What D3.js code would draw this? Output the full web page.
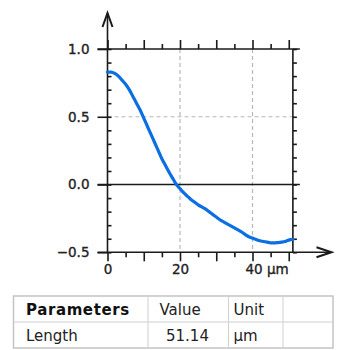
<!DOCTYPE html>
<html>
<head>
<meta charset="utf-8">
<script src="https://cdn.jsdelivr.net/npm/d3@7"></script>
<style>
  html, body { margin: 0; padding: 0; background: #fff; }
  svg { display: block; font-family: "DejaVu Sans", Verdana, sans-serif; }
</style>
</head>
<body>
<svg id="chart" width="342" height="350"></svg>
<script>
// Profile position along the line (µm)
const positions = [0, 1, 2, 3, 4, 5, 6, 7, 8, 9, 10, 11, 12, 13, 14, 15, 16, 17, 18, 19,
  20, 21, 22, 23, 24, 25, 26, 27, 28, 29, 30, 31, 32, 33, 34, 35, 36, 37, 38, 39,
  40, 41, 42, 43, 44, 45, 46, 47, 48, 49, 50, 51.14];
// Profile height at each position
const heights = [0.83, 0.83, 0.82, 0.80, 0.77, 0.74, 0.70, 0.65, 0.60, 0.55,
  0.49, 0.43, 0.37, 0.31, 0.25, 0.19, 0.14, 0.09, 0.045, 0.0,
  -0.03, -0.06, -0.085, -0.11, -0.13, -0.15, -0.165, -0.18, -0.20, -0.22,
  -0.24, -0.26, -0.275, -0.29, -0.305, -0.32, -0.335, -0.35, -0.37, -0.385,
  -0.395, -0.405, -0.415, -0.42, -0.425, -0.43, -0.43, -0.428, -0.425, -0.42,
  -0.41, -0.405];

const xTickLabels = [0, 20, 40];
const yTickLabels = [-0.5, 0, 0.5, 1.0];
const xUnit = "µm";

const tableHeader = ["Parameters", "Value", "Unit", ""];
const tableRow = ["Length", "51.14", "µm", ""];

const svg = d3.select("#chart");
const lengthMax = 51.14;

const x = d3.scaleLinear().domain([0, lengthMax]).range([107.5, 107.5 + lengthMax * 3.625]);
const y = d3.scaleLinear().domain([-0.5, 1.0]).range([252.3, 49]);

const x0 = x(0), x1 = x(lengthMax), yTop = y(1), yBot = y(-0.5);
const ink = "#1a1a1a";

// dashed grid
const grid = svg.append("g").attr("stroke", "#b8b8b8").attr("stroke-width", 1.2)
  .attr("stroke-dasharray", "4,3");
grid.selectAll("line.v").data([20, 40]).join("line")
  .attr("x1", d => x(d)).attr("x2", d => x(d)).attr("y1", yTop).attr("y2", yBot);
grid.selectAll("line.h").data([0.5]).join("line")
  .attr("x1", x0).attr("x2", x1).attr("y1", d => y(d)).attr("y2", d => y(d));

function styleAxis(g) {
  g.selectAll("path.domain").remove();
  g.selectAll(".tick line").attr("stroke", ink).attr("stroke-width", 1.6);
  g.selectAll("text").attr("fill", "#222").attr("font-size", "13.5px")
    .attr("stroke", "#222").attr("stroke-width", 0.35)
    .attr("font-family", "\"DejaVu Sans\", Verdana, sans-serif");
}

const every5 = d3.range(0, 51, 5);
const major10 = every5.filter(v => v % 10 === 0);
const minor5 = every5.filter(v => v % 10 !== 0);
const every01 = d3.range(-5, 11).map(v => v / 10);

// top border ticks
svg.append("g").attr("transform", `translate(0,${yTop})`)
  .call(d3.axisTop(x).tickValues(major10).tickSize(9).tickFormat("")).call(styleAxis);
svg.append("g").attr("transform", `translate(0,${yTop})`)
  .call(d3.axisTop(x).tickValues(minor5).tickSize(5).tickFormat("")).call(styleAxis);

// bottom axis
const bottom = svg.append("g").attr("transform", `translate(0,${yBot})`)
  .call(d3.axisBottom(x).tickValues(major10).tickSize(9).tickPadding(3)
    .tickFormat(d => xTickLabels.includes(d) ? d : ""))
  .call(styleAxis);
svg.append("g").attr("transform", `translate(0,${yBot})`)
  .call(d3.axisBottom(x).tickValues(minor5).tickSize(5).tickFormat("")).call(styleAxis);
// unit after the last label, keeping the number centred on its tick
bottom.selectAll(".tick text").filter(d => d === xTickLabels[xTickLabels.length - 1])
  .each(function (d) {
    const t = d3.select(this);
    const w = this.getComputedTextLength();
    t.attr("text-anchor", "start").attr("x", -w / 2 + 1).append("tspan").text(" " + xUnit);
  });

// left axis: major ticks out with labels, minor ticks in
svg.append("g").attr("transform", `translate(${x0},0)`)
  .call(d3.axisLeft(y).tickValues(yTickLabels).tickSize(10).tickPadding(8)
    .tickFormat(d3.format(".1f")))
  .call(styleAxis);
svg.append("g").attr("transform", `translate(${x0},0)`)
  .call(d3.axisRight(y).tickValues(every01).tickSize(4).tickFormat("")).call(styleAxis);

// right border ticks
svg.append("g").attr("transform", `translate(${x1},0)`)
  .call(d3.axisRight(y).tickValues(every01).tickSize(4).tickFormat("")).call(styleAxis);

// frame and axis lines
const lines = svg.append("g").attr("stroke", ink).attr("stroke-width", 1.6).attr("fill", "none");
lines.append("line").attr("x1", x0 - 10).attr("x2", x1 + 7).attr("y1", yTop).attr("y2", yTop);
lines.append("line").attr("x1", x0 - 10).attr("x2", x1 + 7).attr("y1", y(0)).attr("y2", y(0));
lines.append("line").attr("x1", x1).attr("x2", x1).attr("y1", yTop).attr("y2", yBot);
// x axis with arrow
const xTip = 331.5;
lines.append("line").attr("x1", x0 - 10).attr("x2", xTip).attr("y1", yBot).attr("y2", yBot);
lines.append("path").attr("stroke-width", 2)
  .attr("d", `M${xTip - 15},${yBot - 5}L${xTip},${yBot}L${xTip - 15},${yBot + 5}`);
// y axis with arrow
const yTip = 13;
lines.append("line").attr("x1", x0).attr("x2", x0).attr("y1", yBot).attr("y2", yTip);
lines.append("path").attr("stroke-width", 2)
  .attr("d", `M${x0 - 5},${yTip + 14}L${x0},${yTip}L${x0 + 5},${yTip + 14}`);

// profile curve
const pts = positions.map((p, i) => [p, heights[i]]);
svg.append("path").datum(pts)
  .attr("fill", "none").attr("stroke", "#0b6fe3").attr("stroke-width", 3.2)
  .attr("stroke-linejoin", "round").attr("stroke-linecap", "round")
  .attr("d", d3.line().x(d => x(d[0])).y(d => y(d[1])).curve(d3.curveMonotoneX));

// parameter table
const colEdges = [13.5, 148, 228.5, 283, 333];
const rowEdges = [296, 322, 348];
const tbl = svg.append("g");
tbl.append("rect").attr("x", colEdges[0]).attr("y", rowEdges[0])
  .attr("width", colEdges[4] - colEdges[0]).attr("height", rowEdges[2] - rowEdges[0])
  .attr("fill", "#fff").attr("stroke", "#c4c4c4").attr("stroke-width", 1.5);
tbl.selectAll("line.col").data(colEdges.slice(1, 4)).join("line")
  .attr("x1", d => d).attr("x2", d => d).attr("y1", rowEdges[0]).attr("y2", rowEdges[2])
  .attr("stroke", "#d0d0d0").attr("stroke-width", 1);
tbl.append("line").attr("x1", colEdges[0]).attr("x2", colEdges[4])
  .attr("y1", rowEdges[1]).attr("y2", rowEdges[1]).attr("stroke", "#d0d0d0").attr("stroke-width", 1);

const headerX = [26, 159.5, 233.5, 290];
const rowX = [26, 166, 233.5, 290];
tbl.selectAll("text.h").data(tableHeader).join("text")
  .attr("x", (d, i) => headerX[i]).attr("y", rowEdges[0] + 18.5)
  .attr("font-size", "15px")
  .attr("font-weight", (d, i) => i === 0 ? "bold" : "normal")
  .attr("letter-spacing", (d, i) => i === 0 ? "0.6px" : null)
  .attr("fill", (d, i) => i === 0 ? "#111" : "#222")
  .text(d => d);
tbl.selectAll("text.r").data(tableRow).join("text")
  .attr("x", (d, i) => rowX[i]).attr("y", rowEdges[1] + 18.5)
  .attr("font-size", "15px").attr("fill", "#222")
  .text(d => d);
</script>
</body>
</html>
